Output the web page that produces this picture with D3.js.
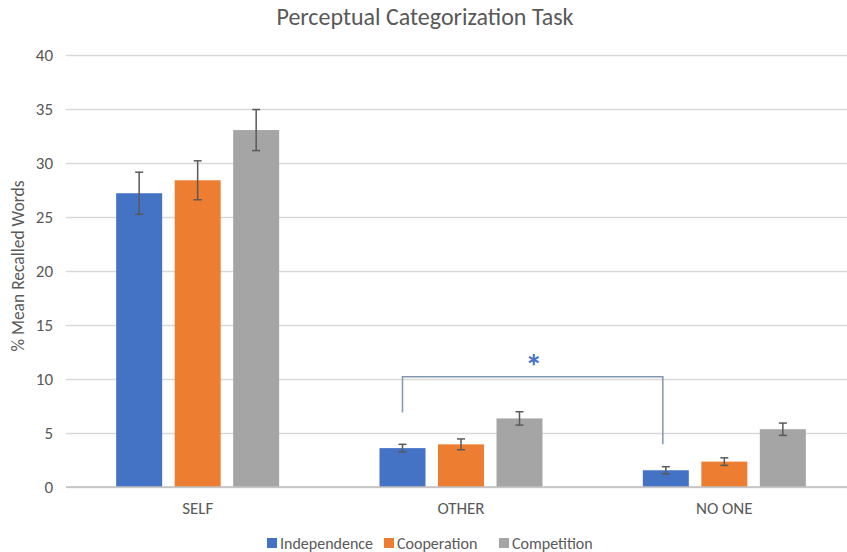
<!DOCTYPE html>
<html>
<head>
<meta charset="utf-8">
<script src="https://cdn.jsdelivr.net/npm/d3@7"></script>
<style>
  body { margin: 0; background: #fff; }
  svg { display: block; font-family: Calibri, Carlito, "Open Sans", sans-serif; }
</style>
</head>
<body>
<div id="chart"></div>
<script>
// data
const categories = ['SELF', 'OTHER', 'NO ONE'];
const seriesNames = ['Independence', 'Cooperation', 'Competition'];
const seriesColors = ['#4472c4', '#ed7d31', '#a5a5a5'];
const independence = [27.2, 3.6, 1.55];
const cooperation = [28.4, 3.95, 2.35];
const competition = [33.05, 6.35, 5.35];
const independenceErr = [1.95, 0.35, 0.33];
const cooperationErr = [1.8, 0.5, 0.35];
const competitionErr = [1.9, 0.62, 0.57];
const yTicks = [0, 5, 10, 15, 20, 25, 30, 35, 40];
// significance bracket: OTHER/Independence vs NO ONE/Independence
const bracketTop = 10.2;
const bracketEnds = [6.9, 3.95];

const W = 847, H = 552;
const margin = { top: 55, right: -9, bottom: 65, left: 66 };
const innerW = W - margin.left - margin.right;
const innerH = H - margin.top - margin.bottom;

const svg = d3.select('#chart').append('svg')
    .attr('width', W).attr('height', H);

const g = svg.append('g').attr('transform', `translate(${margin.left},${margin.top})`);

const values = [independence, cooperation, competition];
const errs = [independenceErr, cooperationErr, competitionErr];
const rows = [];
categories.forEach((c, ci) => {
    seriesNames.forEach((s, si) => {
        rows.push({ cat: c, series: s, si, value: values[si][ci], err: errs[si][ci] });
    });
});

const y = d3.scaleLinear().domain([0, 40]).range([innerH, 0]);
const x0 = d3.scaleBand().domain(categories).range([0, innerW])
    .paddingInner(0.381).paddingOuter(0.1905);
const x1 = d3.scaleBand().domain(seriesNames).range([0, x0.bandwidth()])
    .paddingInner(0.214).paddingOuter(0);

// gridlines
const grid = g.append('g')
    .call(d3.axisLeft(y).tickValues(yTicks).tickSize(-innerW).tickFormat(''));
grid.select('.domain').remove();
grid.selectAll('line').style('stroke', '#d9d9d9').style('stroke-width', '1.5px');

// y tick labels
const yAxis = g.append('g')
    .call(d3.axisLeft(y).tickValues(yTicks).tickSize(0).tickPadding(13));
yAxis.select('.domain').remove();
yAxis.selectAll('text')
    .style('font-size', '17px')
    .style('fill', '#595959')
    .style('font-family', 'Calibri, Carlito, "Open Sans", sans-serif');

// bars
g.selectAll('.bar').data(rows).enter().append('rect')
    .attr('class', 'bar')
    .attr('x', d => x0(d.cat) + x1(d.series))
    .attr('y', d => y(d.value))
    .attr('width', x1.bandwidth())
    .attr('height', d => y(0) - y(d.value))
    .style('fill', d => seriesColors[d.si]);

// baseline
g.append('line')
    .attr('x1', 0).attr('x2', innerW)
    .attr('y1', y(0)).attr('y2', y(0))
    .style('stroke', '#bfbfbf').style('stroke-width', '1.5px');

// error bars
const eb = g.selectAll('.err').data(rows).enter().append('g').attr('class', 'err')
    .attr('transform', d => `translate(${x0(d.cat) + x1(d.series) + x1.bandwidth() / 2},0)`);
eb.append('line')
    .attr('y1', d => y(d.value + d.err)).attr('y2', d => y(d.value - d.err))
    .style('stroke', '#595959').style('stroke-width', '1.5px');
eb.append('line')
    .attr('x1', -4).attr('x2', 4)
    .attr('y1', d => y(d.value + d.err)).attr('y2', d => y(d.value + d.err))
    .style('stroke', '#595959').style('stroke-width', '1.5px');
eb.append('line')
    .attr('x1', -4).attr('x2', 4)
    .attr('y1', d => y(d.value - d.err)).attr('y2', d => y(d.value - d.err))
    .style('stroke', '#595959').style('stroke-width', '1.5px');

// significance bracket
const bx1 = x0('OTHER') + x1('Independence') + x1.bandwidth() / 2;
const bx2 = x0('NO ONE') + x1('Independence') + x1.bandwidth() / 2 - 3;
g.append('path')
    .attr('d', `M${bx1},${y(bracketEnds[0])}V${y(bracketTop)}H${bx2}V${y(bracketEnds[1])}`)
    .style('fill', 'none').style('stroke', '#8497b0').style('stroke-width', '1.5px');
g.append('text')
    .attr('x', (bx1 + bx2) / 2 + 1).attr('y', y(bracketTop) + 1)
    .attr('text-anchor', 'middle')
    .style('font-size', '34px').style('font-weight', 'bold')
    .style('fill', '#4472c4')
    .text('*');

// category labels
g.selectAll('.cat').data(categories).enter().append('text')
    .attr('class', 'cat')
    .attr('x', d => x0(d) + x0.bandwidth() / 2)
    .attr('y', innerH + 27)
    .attr('text-anchor', 'middle')
    .style('font-size', '17px').style('fill', '#595959')
    .text(d => d);

// y axis title
svg.append('text')
    .attr('transform', `translate(24,${266}) rotate(-90)`)
    .attr('text-anchor', 'middle')
    .style('font-size', '17.5px').style('fill', '#595959')
    .text('% Mean Recalled Words');

// title
svg.append('text')
    .attr('x', 425).attr('y', 25)
    .attr('text-anchor', 'middle')
    .style('font-size', '24px').style('fill', '#595959')
    .text('Perceptual Categorization Task');

// legend
const legendX = [267, 384, 499];
const lg = svg.selectAll('.legend').data(seriesNames).enter().append('g')
    .attr('class', 'legend')
    .attr('transform', (d, i) => `translate(${legendX[i]},543)`);
lg.append('rect')
    .attr('x', 0).attr('y', -5).attr('width', 10).attr('height', 10)
    .style('fill', (d, i) => seriesColors[i]);
lg.append('text')
    .attr('x', 13).attr('y', 6)
    .style('font-size', '16px').style('fill', '#595959')
    .text(d => d);
</script>
</body>
</html>
